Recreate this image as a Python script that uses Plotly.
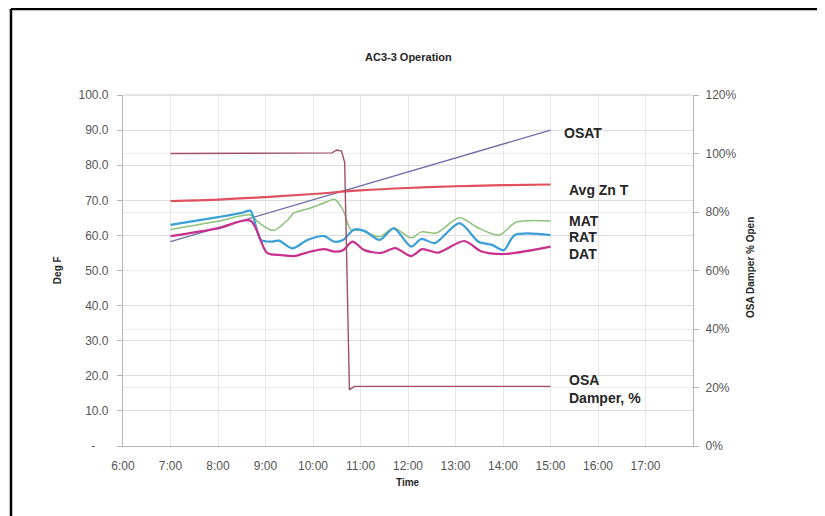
import plotly.graph_objects as go

# ---------------- data ----------------
x_tick_labels = ["6:00", "7:00", "8:00", "9:00", "10:00", "11:00", "12:00",
                 "13:00", "14:00", "15:00", "16:00", "17:00"]
left_tick_vals = [0, 10, 20, 30, 40, 50, 60, 70, 80, 90, 100]
left_tick_text = ["-\u00a0\u00a0\u00a0\u00a0", "10.0", "20.0", "30.0", "40.0", "50.0", "60.0",
                  "70.0", "80.0", "90.0", "100.0"]

osat_t = ["7:00", "11:00", "15:00"]
osat_v = [58.2, 74.1, 90.0]

zone_t = ["7:00", "8:00", "9:00", "10:00", "11:00", "12:00", "13:00", "14:00", "15:00"]
zone_v = [69.8, 70.2, 70.9, 71.8, 72.8, 73.5, 74.0, 74.3, 74.5]

mat_t = ["7:00", "8:00", "8:41", "8:50", "9:05", "9:12", "9:28", "9:36", "9:57",
         "10:18", "10:27", "10:38", "10:48", "11:00", "11:24", "11:42", "12:04",
         "12:17", "12:36", "13:05", "13:29", "13:55", "14:17", "15:00"]
mat_v = [61.7, 64.0, 65.8, 63.9, 61.7, 61.5, 64.4, 66.4, 67.8,
         69.6, 70.3, 67.2, 61.5, 61.5, 59.6, 62.1, 59.3,
         61.0, 60.7, 65.0, 62.1, 60.1, 63.8, 64.1]

rat_t = ["7:00", "8:00", "8:30", "8:41", "8:54", "9:07", "9:17", "9:34", "9:53",
         "10:14", "10:27", "10:38", "10:52", "11:05", "11:24", "11:42", "12:04",
         "12:17", "12:34", "13:05", "13:29", "13:46", "14:01", "14:15", "15:00"]
rat_v = [63.0, 65.2, 66.4, 67.0, 58.7, 58.2, 58.5, 56.3, 58.7,
         59.8, 58.2, 58.7, 61.7, 61.3, 58.7, 62.0, 56.8,
         59.0, 57.8, 63.5, 58.2, 57.3, 55.8, 60.1, 60.1]

dat_t = ["7:00", "8:00", "8:41", "9:02", "9:20", "9:36", "9:57", "10:14", "10:27",
         "10:38", "10:50", "11:05", "11:26", "11:44", "12:04", "12:18", "12:38",
         "13:11", "13:33", "14:02", "15:00"]
dat_v = [59.8, 62.0, 64.2, 55.0, 54.4, 54.1, 55.4, 56.1, 55.4,
         55.8, 58.2, 55.8, 55.0, 56.4, 54.1, 56.1, 55.1,
         58.4, 55.4, 54.7, 56.8]

damper_t = ["7:00", "10:24", "10:30", "10:36", "10:40", "10:46", "10:52", "15:00"]
damper_v = [100.0, 100.2, 101.2, 100.8, 97.0, 19.2, 20.4, 20.4]


def hours(ts):
    out = []
    for s in ts:
        h, m = s.split(":")
        out.append(int(h) + int(m) / 60.0)
    return out


FONT = "Liberation Sans, Arial, sans-serif"
fig = go.Figure()

fig.add_trace(go.Scatter(x=hours(osat_t), y=osat_v, mode="lines", name="OSAT",
                         line=dict(color="#6f6aa6", width=1.3)))
fig.add_trace(go.Scatter(x=hours(zone_t), y=zone_v, mode="lines", name="Avg Zn T",
                         line=dict(color="#e0505e", width=2.2, shape="spline")))
fig.add_trace(go.Scatter(x=hours(mat_t), y=mat_v, mode="lines", name="MAT",
                         line=dict(color="#8cc27a", width=1.5, shape="spline", smoothing=0.8)))
fig.add_trace(go.Scatter(x=hours(rat_t), y=rat_v, mode="lines", name="RAT",
                         line=dict(color="#3a9fd6", width=2.2, shape="spline", smoothing=0.8)))
fig.add_trace(go.Scatter(x=hours(dat_t), y=dat_v, mode="lines", name="DAT",
                         line=dict(color="#c8308e", width=2.2, shape="spline", smoothing=0.8)))
fig.add_trace(go.Scatter(x=hours(damper_t), y=damper_v, mode="lines", name="OSA Damper, %",
                         yaxis="y2", line=dict(color="#9e5068", width=1.4)))

labels = [
    ("OSAT", 15.245, 89.2),
    ("Avg Zn T", 15.35, 72.9),
    ("MAT", 15.35, 64.1),
    ("RAT", 15.35, 59.6),
    ("DAT", 15.35, 54.7),
    ("OSA<br>Damper, %", 15.35, 16.3),
]
annotations = []
for txt, xv, yv in labels:
    annotations.append(dict(text="<b>" + txt + "</b>", x=xv, y=yv, xref="x", yref="y",
                            xanchor="left", yanchor="middle", align="left", showarrow=False,
                            font=dict(family=FONT, size=14, color="#262626")))

annotations += [
    dict(text="<b>AC3-3 Operation</b>", x=0.5006, y=1.108, xref="paper", yref="paper",
         xanchor="center", yanchor="middle", showarrow=False,
         font=dict(family=FONT, size=11, color="#262626")),
    dict(text="<b>Deg F</b>", x=-0.1158, y=0.501, xref="paper", yref="paper",
         xanchor="center", yanchor="middle", textangle=-90, showarrow=False,
         font=dict(family=FONT, size=10, color="#262626")),
    dict(text="<b>OSA Damper % Open</b>", x=1.1, y=0.507, xref="paper", yref="paper",
         xanchor="center", yanchor="middle", textangle=-90, showarrow=False,
         font=dict(family=FONT, size=10, color="#262626")),
    dict(text="<b>Time</b>", x=0.5, y=-0.105, xref="paper", yref="paper",
         xanchor="center", yanchor="middle", showarrow=False,
         font=dict(family=FONT, size=10, color="#262626")),
]

shapes = [
    dict(type="line", xref="paper", yref="paper", x0=-0.1965, x1=1.3, y0=1.245, y1=1.245,
         line=dict(color="#000000", width=2.5)),
    dict(type="line", xref="paper", yref="paper", x0=-0.1965, x1=-0.1965, y0=1.245, y1=-0.3,
         line=dict(color="#000000", width=2.5)),
    dict(type="line", xref="paper", yref="paper", x0=0, x1=1, y0=1, y1=1,
         line=dict(color="#c8c8c8", width=1)),
]

fig.update_layout(
    width=817, height=508,
    margin=dict(l=115, r=132, t=87, b=70),
    paper_bgcolor="white", plot_bgcolor="white",
    showlegend=False,
    annotations=annotations,
    shapes=shapes,
    xaxis=dict(range=[6, 18], tickvals=list(range(6, 18)), ticktext=x_tick_labels,
               showgrid=True, gridcolor="#e6e6e6", gridwidth=1,
               showline=True, linecolor="#b4b4b4", linewidth=1.2,
               ticks="", zeroline=False, ticklabelstandoff=8,
               tickfont=dict(family=FONT, size=12, color="#555555")),
    yaxis=dict(range=[0, 100], tickvals=left_tick_vals, ticktext=left_tick_text,
               showgrid=True, gridcolor="#dedede", gridwidth=1,
               showline=True, linecolor="#b4b4b4", linewidth=1.2,
               ticks="outside", ticklen=5, tickcolor="#b4b4b4", zeroline=False,
               ticklabelstandoff=6,
               tickfont=dict(family=FONT, size=12, color="#555555")),
    yaxis2=dict(range=[0, 120], dtick=20, ticksuffix="%", overlaying="y", side="right",
                showgrid=True, gridcolor="#ececec", gridwidth=1,
                showline=True, linecolor="#b4b4b4", linewidth=1.2,
                ticks="outside", ticklen=5, tickcolor="#b4b4b4", zeroline=False,
                ticklabelstandoff=4,
                tickfont=dict(family=FONT, size=12, color="#555555")),
)

fig.write_html("out.html")
